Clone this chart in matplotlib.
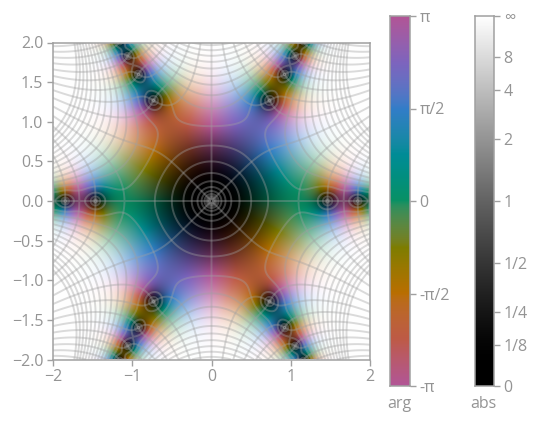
import numpy as np
import matplotlib
matplotlib.use("Agg")
import matplotlib.pyplot as plt

plt.rcParams['font.family'] = ['Open Sans', 'DejaVu Sans']

# Colour of the arg bar from -pi to pi
arg_steps = [-4, -3, -2, -1, 0, 1, 2, 3, 4]
arg_rgb = [(178, 85, 150), (190, 90, 70), (185, 110, 0), (125, 125, 0), (10, 145, 100),
           (0, 140, 150), (50, 125, 200), (125, 100, 190), (178, 85, 150)]

arg_ticks = [-np.pi, -np.pi / 2, 0, np.pi / 2, np.pi]
arg_labels = ['-π', '-π/2', '0', 'π/2', 'π']
abs_ticks = [0, 1 / 8, 1 / 4, 1 / 2, 1, 2, 4, 8, np.inf]
abs_labels = ['0', '1/8', '1/4', '1/2', '1', '2', '4', '8', '∞']
axis_ticks = [-2, -1, 0, 1, 2]
y_ticks = [-2, -1.5, -1, -0.5, 0, 0.5, 1, 1.5, 2]
abs_levels = [2.0 ** n for n in range(-10, 13)]
arg_levels = [0, np.pi / 2, np.pi, -np.pi / 2]

GRAY = '#949494'
W, H = 537, 424


def func(z):
    return np.sin(z ** 3) / z


def srgb_to_oklab(rgb):
    c = np.asarray(rgb, dtype=float) / 255
    lin = np.where(c <= 0.04045, c / 12.92, ((c + 0.055) / 1.055) ** 2.4)
    r, g, b = lin[..., 0], lin[..., 1], lin[..., 2]
    l = np.cbrt(0.4122 * r + 0.5363 * g + 0.0514 * b)
    m = np.cbrt(0.2119 * r + 0.6807 * g + 0.1074 * b)
    s = np.cbrt(0.0883 * r + 0.2817 * g + 0.6300 * b)
    return np.stack([0.2104 * l + 0.7936 * m - 0.0040 * s,
                     1.9779 * l - 2.4286 * m + 0.4506 * s,
                     0.0259 * l + 0.7828 * m - 0.8087 * s], axis=-1)


def oklab_to_srgb(lab):
    L, a, b = lab[..., 0], lab[..., 1], lab[..., 2]
    l = (L + 0.3963 * a + 0.2158 * b) ** 3
    m = (L - 0.1056 * a - 0.0639 * b) ** 3
    s = (L - 0.0895 * a - 1.2915 * b) ** 3
    lin = np.stack([4.0767 * l - 3.3077 * m + 0.2310 * s,
                    -1.2684 * l + 2.6098 * m - 0.3413 * s,
                    -0.0042 * l - 0.7034 * m + 1.7076 * s], axis=-1)
    lin = np.clip(lin, 0, 1)
    return np.where(lin <= 0.0031308, 12.92 * lin, 1.055 * lin ** (1 / 2.4) - 0.055)


arg_lab = srgb_to_oklab(arg_rgb)


def arg_color(angle):
    x = angle / (np.pi / 4)
    return np.stack([np.interp(x, arg_steps, arg_lab[:, i]) for i in range(3)], axis=-1)


def shade(lab, t):
    # black -> colour at t=0.5 -> white
    t = t[..., None]
    s = np.clip(2 * t - 1, 0, 1)
    light = lab[..., :1] + (1 - lab[..., :1]) * s ** 1.1
    keep = (1 - s) ** 0.9
    bright = np.concatenate([light, lab[..., 1:] * keep], axis=-1)
    return np.where(t < 0.5, lab * t * 2, bright)


def style_axis(ax):
    for s in ax.spines.values():
        s.set_color('#a0a0a0')
        s.set_linewidth(1.1)
    ax.tick_params(colors=GRAY, color='#a0a0a0', labelsize=11.5, length=4, width=1, pad=3)


def place(x0, x1, y0, y1):
    return fig.add_axes([x0 / W, 1 - y1 / H, (x1 - x0) / W, (y1 - y0) / H])


fig = plt.figure(figsize=(W / 100, H / 100), dpi=100)

# main panel
ax = place(53, 370, 42, 360)
x = np.linspace(-2, 2, 641)
xx, yy = np.meshgrid(x + 1e-5, x + 1e-5)
zz = xx + 1j * yy
ff = func(zz)
mag = np.abs(ff)
t = mag / (mag + 1)
img = oklab_to_srgb(shade(arg_color(np.angle(ff)), t))
ax.imshow(img, origin='lower', extent=[-2, 2, -2, 2], interpolation='bilinear')
ax.contour(xx, yy, mag, levels=abs_levels, colors='#a0a0a0', alpha=0.38, linewidths=1.4, linestyles='solid')
for lev in arg_levels:
    rot = np.angle(ff * np.exp(-1j * lev))
    ax.contour(xx, yy, np.ma.masked_where(np.abs(rot) > 1.5, rot), levels=[0],
               colors='#a0a0a0', alpha=0.38, linewidths=1.4, linestyles='solid')
ax.set_xlim(-2, 2)
ax.set_ylim(-2, 2)
ax.set_xticks(axis_ticks)
ax.set_xticklabels([str(v).replace('-', '−') for v in axis_ticks])
ax.set_yticks(y_ticks)
ax.set_yticklabels([f'{v:.1f}'.replace('-', '−') for v in y_ticks])
style_axis(ax)

# arg bar
cax = place(390, 410, 16, 386)
a = np.linspace(-np.pi, np.pi, 256)
bar = oklab_to_srgb(arg_color(a))[:, None, :]
cax.imshow(bar, origin='lower', aspect='auto', extent=[0, 1, -np.pi, np.pi])
cax.set_xticks([])
cax.yaxis.tick_right()
cax.set_yticks(arg_ticks)
cax.set_yticklabels(arg_labels)
style_axis(cax)
fig.text(399 / W, 1 - 404 / H, 'arg', color=GRAY, fontsize=11.5, ha='center', va='center')

# abs bar
bax = place(475, 494, 16, 386)
g = np.linspace(0, 1, 256)
gray = oklab_to_srgb(np.stack([g, 0 * g, 0 * g], axis=-1))[:, None, :]
bax.imshow(gray, origin='lower', aspect='auto', extent=[0, 1, 0, 1])
bax.set_xticks([])
bax.yaxis.tick_right()
bax.set_yticks([1.0 if np.isinf(v) else v / (v + 1) for v in abs_ticks])
bax.set_yticklabels(abs_labels)
style_axis(bax)
fig.text(483 / W, 1 - 404 / H, 'abs', color=GRAY, fontsize=11.5, ha='center', va='center')

fig.savefig('out.png', dpi=100)
